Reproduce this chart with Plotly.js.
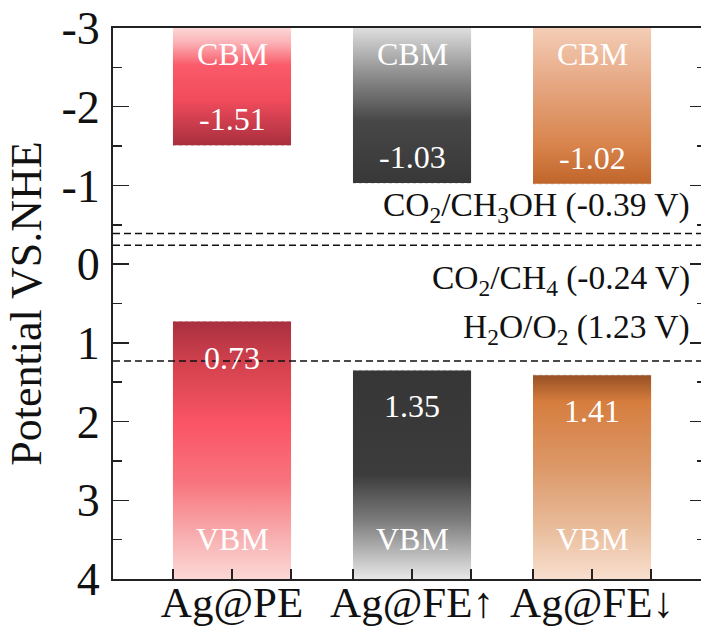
<!DOCTYPE html>
<html>
<head>
<meta charset="utf-8">
<script src="https://cdn.plot.ly/plotly-3.0.1.min.js"></script>
<style>
  html, body { margin: 0; padding: 0; overflow: hidden; background: #fff; }
</style>
</head>
<body>
<div id="chart"></div>
<script>
// Band edges (V vs. NHE) for each sample
const categories = ['Ag@PE', 'Ag@FE\u2191', 'Ag@FE\u2193'];
const cbm = [-1.51, -1.03, -1.02];
const vbm = [0.73, 1.35, 1.41];

// Redox reference potentials
const redoxPotentials = [-0.39, -0.24, 1.23];
const redoxLabels = [
  'CO<sub>2</sub>/CH<sub>3</sub>OH (-0.39 V)',
  'CO<sub>2</sub>/CH<sub>4</sub> (-0.24 V)',
  'H<sub>2</sub>O/O<sub>2</sub> (1.23 V)'
];

// Potential axis limits (top, bottom)
const yLimits = [-3, 4];
const yTicks = [-3, -2, -1, 0, 1, 2, 3, 4];

// Gradient colour ramps, listed from the top of each block to its bottom
const cbmScales = [
  [[0, '#fcd6d6'], [0.12, '#fbb4b8'], [0.32, '#fa5a69'], [0.62, '#ef4b5b'], [1, '#a82f3e']],
  [[0, '#dedede'], [0.3, '#8e8e8e'], [0.6, '#474747'], [1, '#383838']],
  [[0, '#f4cdb6'], [0.35, '#e6a883'], [0.75, '#d8844c'], [1, '#c0652b']]
];
const vbmScales = [
  [[0, '#a93040'], [0.18, '#d6434f'], [0.4, '#fb5567'], [0.62, '#f8737d'], [0.85, '#f8b3b3'], [1, '#fbd8d6']],
  [[0, '#363636'], [0.5, '#3c3c3c'], [0.72, '#7c7c7c'], [1, '#e8e8e8']],
  [[0, '#985024'], [0.13, '#d67d3e'], [0.45, '#dc9868'], [0.75, '#e9bc9b'], [1, '#f8dfce']]
];

const halfWidth = 0.328;
const serif = "'Liberation Serif', 'Times New Roman', Times, serif";

const traces = [];
const annotations = [];

categories.forEach((name, i) => {
  const c = i + 1;
  const x0 = c - halfWidth, x1 = c + halfWidth;

  // faint dotted rims at the open ends of the blocks
  [cbm[i], vbm[i]].forEach(v => {
    traces.push({
      x: [x0, x1], y: [v, v], mode: 'lines', hoverinfo: 'skip', showlegend: false,
      line: { color: '#c9c9c9', width: 1, dash: 'dot' }
    });
  });

  // conduction band block: from the top of the axis down to the CBM value
  traces.push({
    x: [x0, x1, x1, x0, x0],
    y: [yLimits[0], yLimits[0], cbm[i], cbm[i], yLimits[0]],
    mode: 'lines', fill: 'toself', hoverinfo: 'skip', showlegend: false,
    line: { width: 0, color: 'rgba(0,0,0,0)' },
    fillgradient: { type: 'vertical', start: yLimits[0], stop: cbm[i], colorscale: cbmScales[i] }
  });

  // valence band block: from the VBM value down to the bottom of the axis
  traces.push({
    x: [x0, x1, x1, x0, x0],
    y: [vbm[i], vbm[i], yLimits[1], yLimits[1], vbm[i]],
    mode: 'lines', fill: 'toself', hoverinfo: 'skip', showlegend: false,
    line: { width: 0, color: 'rgba(0,0,0,0)' },
    fillgradient: { type: 'vertical', start: vbm[i], stop: yLimits[1], colorscale: vbmScales[i] }
  });

  const white = { family: serif, size: 32, color: '#ffffff' };
  annotations.push(
    { x: c, y: yLimits[0], text: 'CBM', showarrow: false, yanchor: 'top', yshift: -6, font: white },
    { x: c, y: cbm[i], text: cbm[i].toFixed(2), showarrow: false, yanchor: 'bottom', yshift: 6, font: white },
    { x: c, y: vbm[i], text: vbm[i].toFixed(2), showarrow: false, yanchor: 'top', yshift: -16, font: white },
    { x: c, y: yLimits[1], text: 'VBM', showarrow: false, yanchor: 'bottom', yshift: 20, font: white }
  );
});

// dashed redox reference lines spanning the full width
const xRange = [0.339, 3.633];
redoxPotentials.forEach(v => {
  traces.push({
    x: xRange, y: [v, v], mode: 'lines', hoverinfo: 'skip', showlegend: false,
    line: { color: '#111', width: 1.6, dash: '7px,4px' }
  });
});

const redoxPlacement = [
  { yanchor: 'bottom', yshift: 3 },
  { yanchor: 'top', yshift: -12 },
  { yanchor: 'bottom', yshift: 9 }
];
redoxPotentials.forEach((v, k) => {
  annotations.push({
    xref: 'paper', x: 0.976, xanchor: 'right', y: v, text: redoxLabels[k], showarrow: false,
    yanchor: redoxPlacement[k].yanchor, yshift: redoxPlacement[k].yshift,
    font: { family: serif, size: 33.5, color: '#111' }
  });
});

// bar edge positions for the small bottom ticks
const edgeTicks = [];
categories.forEach((_, i) => { edgeTicks.push(i + 1 - halfWidth, i + 1 + halfWidth); });

const layout = {
  width: 706, height: 633,
  margin: { l: 113, r: 0, t: 28, b: 54 },
  paper_bgcolor: '#fff', plot_bgcolor: '#fff',
  showlegend: false,
  font: { family: serif },
  xaxis: {
    range: xRange, showgrid: false, zeroline: false,
    tickmode: 'array', tickvals: categories.map((_, i) => i + 1), ticktext: categories,
    ticks: 'inside', ticklen: 10, tickwidth: 1.5, tickcolor: '#222',
    minor: { tickmode: 'array', tickvals: edgeTicks, ticks: 'inside', ticklen: 10, tickwidth: 1.5, tickcolor: '#222' },
    showline: true, linecolor: '#222', linewidth: 2, mirror: true,
    ticklabelstandoff: -16,
    tickfont: { family: serif, size: 43, color: '#111' }
  },
  yaxis: {
    range: [yLimits[1], yLimits[0]], showgrid: false, zeroline: false,
    tickmode: 'array', tickvals: yTicks, ticktext: yTicks.map(String),
    ticks: 'inside', ticklen: 16, tickwidth: 1.5, tickcolor: '#222',
    minor: { dtick: 0.5, ticks: 'inside', ticklen: 9, tickwidth: 1.5, tickcolor: '#222' },
    showline: true, linecolor: '#222', linewidth: 2, mirror: 'ticks',
    ticklabelstandoff: 2,
    tickfont: { family: serif, size: 46, color: '#111' },
    title: { text: 'Potential VS.NHE', font: { family: serif, size: 44, color: '#111' }, standoff: 6 }
  },
  annotations: annotations
};

Plotly.newPlot('chart', traces, layout, { displayModeBar: false, staticPlot: true });
</script>
</body>
</html>
